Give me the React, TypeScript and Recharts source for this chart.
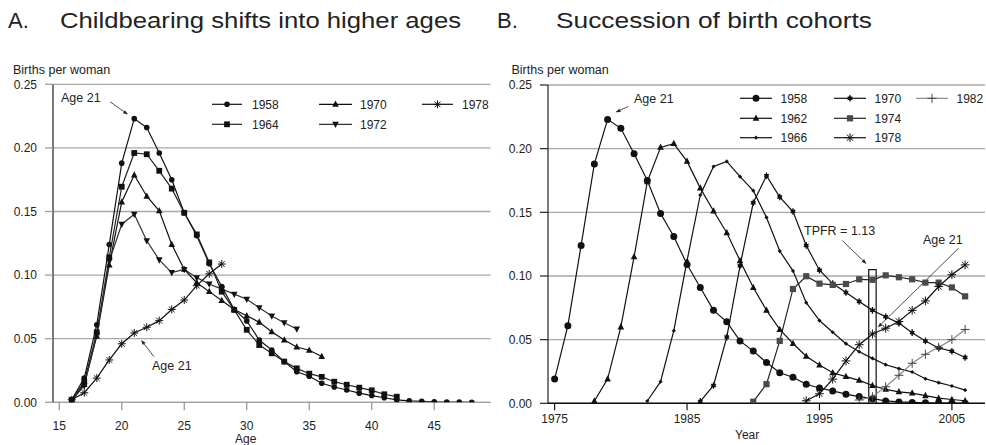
import React from 'react';
import { LineChart, Line, XAxis, YAxis, CartesianGrid, ReferenceLine, ReferenceArea } from 'recharts';

const FONT = '"Liberation Sans", Arial, Helvetica, sans-serif';

// ---------- axes ----------
const ageTicks = [15, 20, 25, 30, 35, 40, 45];
const yearTicks = [1975, 1985, 1995, 2005];
const rateTicks = [0, 0.05, 0.1, 0.15, 0.2, 0.25];
const firstAge = 16;

// ---------- cohort fertility rates, by age starting at 16 ----------
const c1958 = [0.002, 0.019, 0.061, 0.124, 0.188, 0.223, 0.216, 0.196, 0.175, 0.149, 0.131, 0.109, 0.091, 0.073, 0.064, 0.049, 0.041, 0.032, 0.024, 0.0205, 0.015, 0.012, 0.0097, 0.0072, 0.0053, 0.0036, 0.0019, 0.0011, 0.0007, 0.0004, 0.0002, 0.0001, 0.0];
const c1964 = [0.002, 0.016, 0.055, 0.114, 0.1695, 0.196, 0.195, 0.182, 0.168, 0.149, 0.132, 0.110, 0.087, 0.0726, 0.057, 0.045, 0.0385, 0.032, 0.0267, 0.0225, 0.020, 0.0162, 0.0138, 0.0115, 0.0094, 0.0063, 0.0044];
const c1970 = [0.0015, 0.014, 0.052, 0.108, 0.1575, 0.1787, 0.162, 0.1506, 0.124, 0.1045, 0.094, 0.087, 0.080, 0.073, 0.068, 0.063, 0.0555, 0.049, 0.0435, 0.0409, 0.036];
const c1972 = [0.0015, 0.013, 0.053, 0.111, 0.140, 0.1478, 0.127, 0.112, 0.102, 0.1045, 0.098, 0.093, 0.089, 0.085, 0.081, 0.0744, 0.0678, 0.0626, 0.0576];
const c1978 = [0.002, 0.0075, 0.019, 0.0333, 0.046, 0.0545, 0.059, 0.0642, 0.073, 0.0804, 0.0917, 0.101, 0.1087];
const c1962 = [0.0018, 0.019, 0.060, 0.115, 0.174, 0.201, 0.204, 0.190, 0.169, 0.151, 0.134, 0.112, 0.091, 0.073, 0.058, 0.047, 0.037, 0.030, 0.024, 0.021, 0.018, 0.014, 0.011, 0.009, 0.008, 0.006, 0.004, 0.003, 0.002];
const c1966 = [0.0018, 0.017, 0.057, 0.112, 0.1636, 0.186, 0.190, 0.178, 0.167, 0.146, 0.1196, 0.104, 0.079, 0.065, 0.0558, 0.0468, 0.0405, 0.0353, 0.0303, 0.0272, 0.0246, 0.0193, 0.0162, 0.0136, 0.0104];
const c1974 = [0.0013, 0.015, 0.049, 0.0898, 0.0998, 0.094, 0.093, 0.0937, 0.0974, 0.097, 0.1005, 0.099, 0.0974, 0.0948, 0.0948, 0.091, 0.084];
const c1982 = [0.0026, 0.0052, 0.013, 0.022, 0.0314, 0.0385, 0.044, 0.050, 0.058];

const byAge = (vals: number[]) => vals.map((v, i) => ({ x: firstAge + i, y: v }));
const byYear = (cohort: number, vals: number[]) =>
  vals.map((v, i) => ({ x: cohort + firstAge + i, y: v })).filter((d) => d.x >= 1975);

type Kind = 'circle' | 'square' | 'tri' | 'triDown' | 'ast' | 'diamond' | 'star' | 'plus';

function Marker({ kind, x, y, s, color }: { kind: Kind; x: number; y: number; s: number; color: string }) {
  switch (kind) {
    case 'circle':
      return <circle cx={x} cy={y} r={s} fill={color} />;
    case 'square':
      return <rect x={x - s} y={y - s} width={2 * s} height={2 * s} fill={color} />;
    case 'tri':
      return <polygon points={`${x},${y - s * 1.15} ${x - s},${y + s * 0.75} ${x + s},${y + s * 0.75}`} fill={color} />;
    case 'triDown':
      return <polygon points={`${x},${y + s * 1.15} ${x - s},${y - s * 0.75} ${x + s},${y - s * 0.75}`} fill={color} />;
    case 'diamond':
      return <polygon points={`${x},${y - s} ${x + s},${y} ${x},${y + s} ${x - s},${y}`} fill={color} />;
    case 'ast': {
      const d = s * 0.72;
      return (
        <g stroke={color} strokeWidth={1}>
          <line x1={x - s} y1={y} x2={x + s} y2={y} />
          <line x1={x} y1={y - s} x2={x} y2={y + s} />
          <line x1={x - d} y1={y - d} x2={x + d} y2={y + d} />
          <line x1={x - d} y1={y + d} x2={x + d} y2={y - d} />
        </g>
      );
    }
    case 'star': {
      const d = s * 0.72;
      return (
        <g stroke={color} strokeWidth={1.3}>
          <circle cx={x} cy={y} r={s * 0.6} fill={color} stroke="none" />
          <line x1={x} y1={y - s} x2={x} y2={y + s} />
          <line x1={x - d} y1={y - d * 0.6} x2={x + d} y2={y + d * 0.6} />
          <line x1={x - d} y1={y + d * 0.6} x2={x + d} y2={y - d * 0.6} />
        </g>
      );
    }
    case 'plus':
      return (
        <g stroke={color} strokeWidth={1}>
          <line x1={x - s} y1={y} x2={x + s} y2={y} />
          <line x1={x} y1={y - s} x2={x} y2={y + s} />
        </g>
      );
  }
  return null;
}

type Series = { name: string; data: { x: number; y: number }[]; kind: Kind; s: number; color: string; line: string };

const leftSeries: Series[] = [
  { name: '1958', data: byAge(c1958), kind: 'circle', s: 2.8, color: '#111', line: '#111' },
  { name: '1964', data: byAge(c1964), kind: 'square', s: 2.9, color: '#111', line: '#222' },
  { name: '1970', data: byAge(c1970), kind: 'tri', s: 3.3, color: '#111', line: '#111' },
  { name: '1972', data: byAge(c1972), kind: 'triDown', s: 3.3, color: '#111', line: '#333' },
  { name: '1978', data: byAge(c1978), kind: 'ast', s: 4, color: '#111', line: '#111' },
];

const rightSeries: Series[] = [
  { name: '1958', data: byYear(1958, c1958), kind: 'circle', s: 3.5, color: '#111', line: '#111' },
  { name: '1962', data: byYear(1962, c1962), kind: 'tri', s: 3.3, color: '#111', line: '#111' },
  { name: '1966', data: byYear(1966, c1966), kind: 'diamond', s: 2.1, color: '#111', line: '#111' },
  { name: '1970', data: byYear(1970, c1970), kind: 'star', s: 3.3, color: '#111', line: '#111' },
  { name: '1974', data: byYear(1974, c1974), kind: 'square', s: 3.1, color: '#4a4a4a', line: '#222' },
  { name: '1978', data: byYear(1978, c1978), kind: 'ast', s: 4.4, color: '#111', line: '#111' },
  { name: '1982', data: byYear(1982, c1982), kind: 'plus', s: 4.5, color: '#444', line: '#888' },
];

const makeDot = (s: Series) => (p: any) => {
  const { cx, cy, index } = p;
  if (cx == null || cy == null) return <g key={`e${index}`} />;
  return (
    <g key={`d${s.name}${index}`}>
      <Marker kind={s.kind} x={cx} y={cy} s={s.s} color={s.color} />
    </g>
  );
};

const arrowShape = (p: any) => {
  const { x1, y1, x2, y2 } = p;
  if ([x1, y1, x2, y2].some((v) => v == null || isNaN(v))) return <g />;
  const dx = x2 - x1;
  const dy = y2 - y1;
  const L = Math.hypot(dx, dy) || 1;
  const ux = dx / L;
  const uy = dy / L;
  const hl = 5;
  const hw = 1.8;
  const bx = x2 - ux * hl;
  const by = y2 - uy * hl;
  return (
    <g>
      <line x1={x1} y1={y1} x2={bx} y2={by} stroke="#222" strokeWidth={0.8} />
      <polygon points={`${x2},${y2} ${bx - uy * hw},${by + ux * hw} ${bx + uy * hw},${by - ux * hw}`} fill="#222" />
    </g>
  );
};

const tickStyle = { fontSize: 12, fill: '#222', fontFamily: FONT };
const fmt = (v: number) => v.toFixed(2);

function LeftChart() {
  return (
    <LineChart width={493} height={445} margin={{ top: 84.3, right: 2.5, bottom: 12.7, left: 0 }}>
      <CartesianGrid vertical={false} stroke="#a8a8a8" strokeWidth={1.3} />
      <XAxis
        type="number"
        dataKey="x"
        domain={[14.5, 49.5]}
        ticks={ageTicks}
        allowDataOverflow
        height={30}
        tickSize={8}
        tickMargin={11}
        axisLine={{ stroke: '#a0a0a0', strokeWidth: 1.3 }}
        tickLine={{ stroke: '#909090', strokeWidth: 1.2 }}
        tick={tickStyle}
      />
      <YAxis
        type="number"
        domain={[0, 0.25]}
        ticks={rateTicks}
        allowDataOverflow
        width={53}
        tickSize={8}
        tickMargin={8}
        tickFormatter={fmt}
        axisLine={{ stroke: '#222', strokeWidth: 1.2 }}
        tickLine={{ stroke: '#a0a0a0', strokeWidth: 1.3 }}
        tick={tickStyle}
      />
      {leftSeries.map((s) => (
        <Line
          key={s.name}
          data={s.data}
          dataKey="y"
          type="linear"
          stroke={s.line}
          strokeWidth={1.2}
          dot={makeDot(s)}
          activeDot={false}
          isAnimationActive={false}
        />
      ))}
      <ReferenceLine segment={[{ x: 19.06, y: 0.2363 }, { x: 20.5, y: 0.2262 }]} shape={arrowShape} ifOverflow="visible" />
      <ReferenceLine segment={[{ x: 22.58, y: 0.0358 }, { x: 21.55, y: 0.049 }]} shape={arrowShape} ifOverflow="visible" />
    </LineChart>
  );
}

function RightChart() {
  return (
    <LineChart width={493} height={445} margin={{ top: 85, right: 1, bottom: 11.7, left: 0 }}>
      <CartesianGrid vertical={false} stroke="#a8a8a8" strokeWidth={1.3} />
      <XAxis
        type="number"
        dataKey="x"
        domain={[1974.5, 2007.5]}
        ticks={yearTicks}
        allowDataOverflow
        height={30}
        tickSize={7}
        tickMargin={4}
        axisLine={{ stroke: '#111', strokeWidth: 1.4 }}
        tickLine={{ stroke: '#111', strokeWidth: 1.2 }}
        tick={tickStyle}
      />
      <YAxis
        type="number"
        domain={[0, 0.25]}
        ticks={rateTicks}
        allowDataOverflow
        width={55}
        tickSize={8}
        tickMargin={8}
        tickFormatter={fmt}
        axisLine={{ stroke: '#222', strokeWidth: 1.2 }}
        tickLine={{ stroke: '#222', strokeWidth: 1.2 }}
        tick={tickStyle}
      />
      <ReferenceArea x1={1998.72} x2={1999.28} y1={0} y2={0.105} fill="none" fillOpacity={0} stroke="#111" strokeWidth={1.2} ifOverflow="visible" />
      {rightSeries.map((s) => (
        <Line
          key={s.name}
          data={s.data}
          dataKey="y"
          type="linear"
          stroke={s.line}
          strokeWidth={1.2}
          dot={makeDot(s)}
          activeDot={false}
          isAnimationActive={false}
        />
      ))}
      <ReferenceLine segment={[{ x: 1980.54, y: 0.233 }, { x: 1979.6, y: 0.2285 }]} shape={arrowShape} ifOverflow="visible" />
      <ReferenceLine segment={[{ x: 1996.73, y: 0.1277 }, { x: 1998.55, y: 0.1095 }]} shape={arrowShape} ifOverflow="visible" />
      <ReferenceLine segment={[{ x: 2005.51, y: 0.1218 }, { x: 1999.4, y: 0.0595 }]} shape={arrowShape} ifOverflow="visible" />
    </LineChart>
  );
}

const LegendItem = ({ x1, x2, tx, y, s, label }: { x1: number; x2: number; tx: number; y: number; s: Series; label: string }) => (
  <g>
    <line x1={x1} y1={y} x2={x2} y2={y} stroke={s.line} strokeWidth={1.2} />
    <Marker kind={s.kind} x={(x1 + x2) / 2} y={y} s={s.s} color={s.color} />
    <text x={tx} y={y + 4.3} fontSize={12} fill="#222">{label}</text>
  </g>
);

function Overlay() {
  const L = leftSeries;
  const R = rightSeries;
  return (
    <svg width={986} height={445} style={{ position: 'absolute', left: 0, top: 0, pointerEvents: 'none' }} fontFamily={FONT}>
      {/* titles */}
      <text x={8} y={28} fontSize={22} fill="#222">A.</text>
      <text x={60} y={28} fontSize={22} fill="#222" textLength={401} lengthAdjust="spacingAndGlyphs">Childbearing shifts into higher ages</text>
      <text x={497} y={28} fontSize={22} fill="#222">B.</text>
      <text x={556} y={28} fontSize={22} fill="#222" textLength={316} lengthAdjust="spacingAndGlyphs">Succession of birth cohorts</text>

      {/* axis titles */}
      <text x={13} y={73.5} fontSize={12.5} fill="#222">Births per woman</text>
      <text x={511.5} y={73.5} fontSize={12.5} fill="#222">Births per woman</text>
      <text x={235} y={443} fontSize={12} fill="#222">Age</text>
      <text x={735} y={438.5} fontSize={12} fill="#222">Year</text>

      {/* annotations */}
      <text x={61} y={101.5} fontSize={12.5} fill="#222">Age 21</text>
      <text x={152} y={369.5} fontSize={12.5} fill="#222">Age 21</text>
      <text x={634} y={102.5} fontSize={12.5} fill="#222">Age 21</text>
      <text x={804} y={235} fontSize={12.5} fill="#222">TPFR = 1.13</text>
      <text x={923} y={243.5} fontSize={12.5} fill="#222">Age 21</text>

      {/* left legend */}
      <LegendItem x1={212} x2={242} tx={252} y={104.3} s={L[0]} label="1958" />
      <LegendItem x1={212} x2={242} tx={252} y={124.3} s={L[1]} label="1964" />
      <LegendItem x1={319} x2={352} tx={360} y={104.3} s={L[2]} label="1970" />
      <LegendItem x1={319} x2={352} tx={360} y={124.3} s={L[3]} label="1972" />
      <LegendItem x1={422} x2={453} tx={462} y={104.3} s={L[4]} label="1978" />

      {/* right legend */}
      <LegendItem x1={740} x2={772} tx={780.5} y={98.3} s={R[0]} label="1958" />
      <LegendItem x1={740} x2={772} tx={780.5} y={118.3} s={R[1]} label="1962" />
      <LegendItem x1={740} x2={772} tx={780.5} y={137.7} s={R[2]} label="1966" />
      <LegendItem x1={834} x2={866} tx={874.5} y={98.3} s={R[3]} label="1970" />
      <LegendItem x1={834} x2={866} tx={874.5} y={118.3} s={R[4]} label="1974" />
      <LegendItem x1={834} x2={866} tx={874.5} y={137.7} s={R[5]} label="1978" />
      <LegendItem x1={916} x2={948} tx={956.5} y={98.3} s={R[6]} label="1982" />
    </svg>
  );
}

export default function App() {
  return (
    <div style={{ position: 'absolute', left: 0, top: 0, width: 986, height: 445, background: '#fff', fontFamily: FONT }}>
      <div style={{ position: 'absolute', left: 0, top: 0 }}>
        <LeftChart />
      </div>
      <div style={{ position: 'absolute', left: 493, top: 0 }}>
        <RightChart />
      </div>
      <Overlay />
    </div>
  );
}
